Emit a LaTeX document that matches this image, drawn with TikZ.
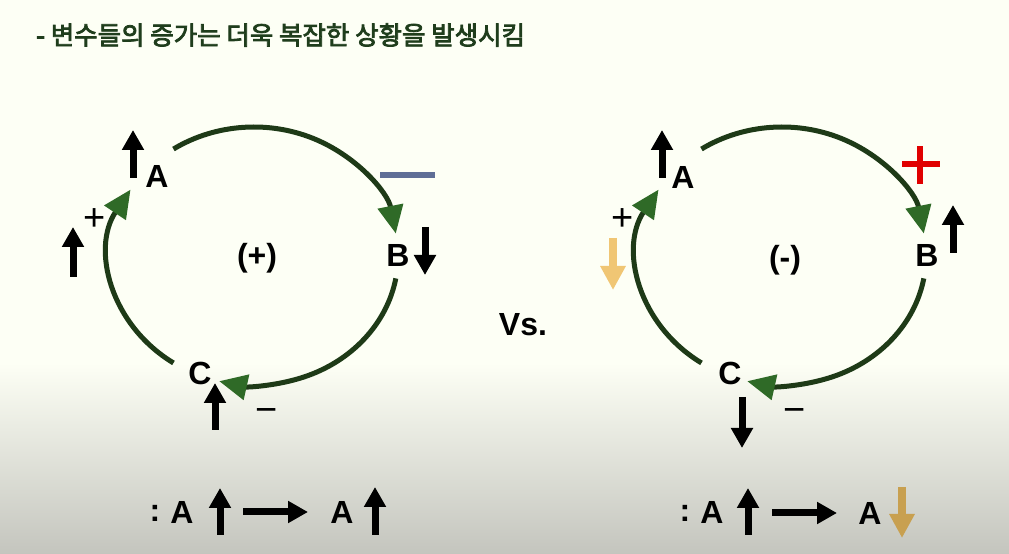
\documentclass[tikz,border=0pt]{standalone}
\usepackage{fontspec}
\setmainfont{Liberation Sans}
\newfontfamily\kr{Noto Sans CJK KR}[FakeBold=3]
\usetikzlibrary{arrows.meta,calc}
\definecolor{bgtop}{HTML}{FDFFF5}
\definecolor{bgbot}{HTML}{C4C5BE}
\definecolor{loopline}{HTML}{1E3A17}
\definecolor{loophead}{HTML}{2F6A27}
\definecolor{titlec}{HTML}{1F3D1C}
\definecolor{barblue}{HTML}{5F6E96}
\definecolor{plusred}{HTML}{E00000}
\definecolor{yelarrow}{HTML}{F0C674}
\definecolor{tanarrow}{HTML}{C8A050}
\begin{document}
\begin{tikzpicture}[x=1pt,y=1pt,
  lbl/.style={font=\fontsize{32}{32}\selectfont\bfseries, inner sep=0pt},
  sgn/.style={font=\fontsize{38}{38}\selectfont, inner sep=0pt},
  loopa/.style={draw=loopline, line width=5pt, -{Triangle[length=28pt,width=25pt,color=loophead]}},
  barrow/.style={line width=7pt, -{Triangle[length=20pt,width=21pt]}},
  colarrow/.style={line width=8pt, -{Triangle[length=24pt,width=24pt]}},
]
% background
\fill[bgtop] (0,0) rectangle (1009,554);
\shade[top color=bgtop, bottom color=bgbot] (0,0) rectangle (1009,191);
\useasboundingbox (0,0) rectangle (1009,554);

% title
\node[anchor=west, text=titlec, font=\kr\fontsize{25.5}{25.5}\selectfont, inner sep=0pt] (title) at (36,519) {- 변수들의 증가는 더욱 복잡한 상황을 발생시킴};

% ---------- left loop ----------
\coordinate (OL) at (254,298);
\path (OL) ++(124:144 and 129) coordinate (LA1);
\path (OL) ++(-10:144 and 129) coordinate (LB1);
\path (OL) ++(-124:144 and 129) coordinate (LC1);
\draw[loopa] (LA1) arc[start angle=124,end angle=10,x radius=144,y radius=129];
\draw[loopa] (LB1) arc[start angle=-10,end angle=-104,x radius=144,y radius=129];
\draw[loopa] (LC1) arc[start angle=-124,end angle=-211,x radius=144,y radius=129];

\node[lbl] (LA) at (157,378) {A};
\node[lbl] (LB) at (398,299) {B};
\node[lbl] (LC) at (200,181) {C};
\node[lbl] (Lsign) at (257,296) {(+)};
\node[sgn] (Lplus) at (95,334) {+};
\node[sgn] (Lminus) at (267,138) {−};
\fill[barblue] (380,376) rectangle (435,382);

\draw[barrow] (133,376) -- (133,424);
\draw[barrow] (73,277) -- (73,327);
\draw[barrow] (425,327) -- (425,279);
\draw[barrow] (215,124) -- (215,171);

% ---------- right loop ----------
\coordinate (OR) at (782,298);
\path (OR) ++(124:144 and 129) coordinate (RA1);
\path (OR) ++(-10:144 and 129) coordinate (RB1);
\path (OR) ++(-124:144 and 129) coordinate (RC1);
\draw[loopa] (RA1) arc[start angle=124,end angle=10,x radius=144,y radius=129];
\draw[loopa] (RB1) arc[start angle=-10,end angle=-104,x radius=144,y radius=129];
\draw[loopa] (RC1) arc[start angle=-124,end angle=-211,x radius=144,y radius=129];

\node[lbl] (RA) at (683,377) {A};
\node[lbl] (RB) at (927,299) {B};
\node[lbl] (RC) at (730,181) {C};
\node[lbl] (Rsign) at (785,294) {(-)};
\node[sgn] (Rplus) at (623,334) {+};
\node[sgn] (Rminus) at (795,138) {−};
\fill[plusred] (902,387) rectangle (940,393);
\fill[plusred] (917,370) rectangle (923,408);

\draw[barrow] (662,376) -- (662,424);
\draw[colarrow, yelarrow] (613,316) -- (613,264);
\draw[barrow] (953,301) -- (953,349);
\draw[barrow] (742,157) -- (742,106);

% Vs.
\node[lbl] (vs) at (523,229) {Vs.};

% ---------- bottom left ----------
\node[lbl] (Lcolon) at (155,41) {:};
\node[lbl] (LA2) at (182,42) {A};
\draw[barrow] (220,19) -- (220,66);
\draw[barrow] (243,42) -- (308,42);
\node[lbl] (LA3) at (342,42) {A};
\draw[barrow] (375,19) -- (375,67);

% ---------- bottom right ----------
\node[lbl] (Rcolon) at (685,41) {:};
\node[lbl] (RA2) at (712,42) {A};
\draw[barrow] (748,19) -- (748,66);
\draw[barrow] (772,41) -- (837,41);
\node[lbl] (RA3) at (870,41) {A};
\draw[colarrow, tanarrow] (902,67) -- (902,16);
\end{tikzpicture}
\end{document}
